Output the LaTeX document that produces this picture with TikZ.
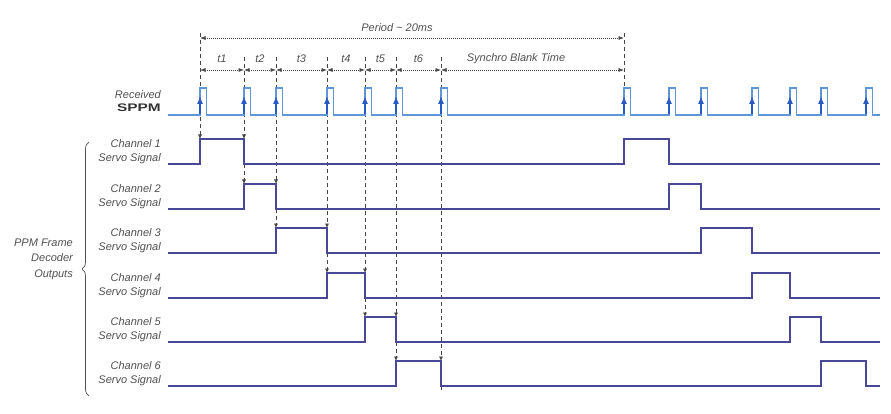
\documentclass[tikz,border=0pt]{standalone}
\usepackage{fontspec}
\setmainfont{Liberation Sans}
\usetikzlibrary{arrows.meta,decorations.pathreplacing}
\definecolor{ppmblue}{RGB}{95,150,215}
\definecolor{arrblue}{RGB}{40,90,195}
\definecolor{chblue}{RGB}{72,72,150}
\definecolor{dashgray}{RGB}{70,70,70}
\definecolor{txtgray}{RGB}{80,80,80}
\begin{document}
\begin{tikzpicture}[x=1pt,y=-1pt,
  lbl/.style={font=\fontsize{11}{14}\selectfont\itshape, text=txtgray, align=right, anchor=east, inner sep=0pt},
  tlbl/.style={font=\fontsize{11}{13}\selectfont\itshape, text=txtgray, inner sep=0pt},
  guide/.style={dashgray, line width=0.7pt, dash pattern=on 4pt off 3pt},
  guidearr/.style={guide, -{Latex[length=4.5pt,width=4pt]}},
  spanarr/.style={dashgray, line width=0.7pt, dash pattern=on 1pt off 1pt,
     {Latex[length=5.5pt,width=4pt]}-{Latex[length=5.5pt,width=4pt]}},
  ppm/.style={ppmblue, line width=1.2pt, line join=miter},
  chsig/.style={chblue, line width=1.4pt, line join=miter},
  uparr/.style={arrblue, line width=1.2pt, -{Latex[length=8pt,width=6pt]}},
  ]
\useasboundingbox (0,0) rectangle (891,414);

% time marks of the first frame
\foreach \n/\x in {0/200,1/244,2/276,3/327,4/365,5/396,6/441}{\coordinate (T\n) at (\x,0);}
\coordinate (S0) at (624,0);
\coordinate (yper) at (0,38);
\coordinate (yspan) at (0,70);

% vertical guides
\draw[guidearr] (200,33) -- (200,139);
\foreach \x/\hi/\lo/\nhi in {244/139/164/184, 276/184/209/228, 327/228/253/273, 365/273/298/317, 396/317/342/361}{
  \draw[guidearr] (\x,57) -- (\x,\hi);
  \draw[guidearr] (\x,\lo) -- (\x,\nhi);
}
\draw[guidearr] (441,57) -- (441,361);
\draw[guide] (441,386) -- (441,392);
\draw[guide] (624,33) -- (624,88);

% period and interval spans
\draw[spanarr] (T0 |- yper) -- (S0 |- yper);
\node[tlbl] (per) at (397,28) {Period \char"7E\ 20ms};
\draw[spanarr] (T0 |- yspan) -- (T1 |- yspan);
\draw[spanarr] (T1 |- yspan) -- (T2 |- yspan);
\draw[spanarr] (T2 |- yspan) -- (T3 |- yspan);
\draw[spanarr] (T3 |- yspan) -- (T4 |- yspan);
\draw[spanarr] (T4 |- yspan) -- (T5 |- yspan);
\draw[spanarr] (T5 |- yspan) -- (T6 |- yspan);
\draw[spanarr] (T6 |- yspan) -- (S0 |- yspan);
\node[tlbl] (lt1) at (222,59) {t1};
\node[tlbl] (lt2) at (260,59) {t2};
\node[tlbl] (lt3) at (301.5,59) {t3};
\node[tlbl] (lt4) at (346,59) {t4};
\node[tlbl] (lt5) at (380.5,59) {t5};
\node[tlbl] (lt6) at (418.5,59) {t6};
\node[tlbl] (lsb) at (516,59) {Synchro Blank Time};

% received PPM signal
\draw[ppm] (168,115) foreach \x in {200,244,276,327,365,396,441,624,669,701,752,790,821,866}
  { -- (\x,115) -- (\x,88) -- (\x+6.5,88) -- (\x+6.5,115) } -- (880,115);
\foreach \x in {200,244,276,327,365,396,441,624,669,701,752,790,821,866}
  { \draw[uparr] (\x,114) -- (\x,96); }
\node[lbl] (rx) at (161,101.5) {Received\\[-1pt]{\upshape\bfseries\color{black!80}\scalebox{1.4}[1]{SPPM}}};

% channel outputs
\foreach \k/\a/\b/\c/\d/\B in {1/200/244/624/669/164, 2/244/276/669/701/209,
   3/276/327/701/752/253, 4/327/365/752/790/298, 5/365/396/790/821/342, 6/396/441/821/866/386}{
  \draw[chsig] (168,\B) -- (\a,\B) -- (\a,\B-25) -- (\b,\B-25) -- (\b,\B)
     -- (\c,\B) -- (\c,\B-25) -- (\d,\B-25) -- (\d,\B) -- (880,\B);
  \node[lbl] (ch\k) at (161,\B-12) {Channel \k\\Servo Signal};
}

% brace and group label
\draw[txtgray, line width=0.7pt, decorate, decoration={brace, amplitude=7pt}]
  (89,396) -- (89,142);
\node[lbl, font=\fontsize{11}{15.5}\selectfont\itshape] (grp) at (73,259) {PPM Frame\\Decoder\\Outputs};
\end{tikzpicture}
\end{document}
